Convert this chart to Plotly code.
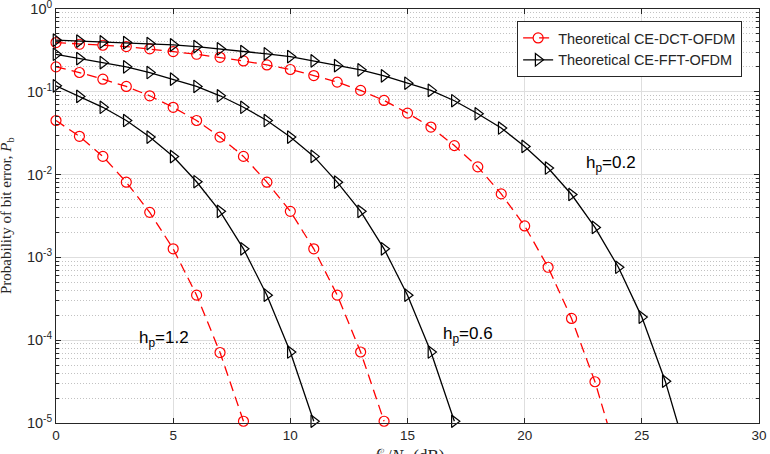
import plotly.graph_objects as go

# Eb/N0 (dB) grids
x_dct_12 = list(range(0, 9))
x_fft_12 = list(range(0, 12))
x_dct_06 = list(range(0, 15))
x_fft_06 = list(range(0, 18))
x_dct_02 = list(range(0, 25))
x_fft_02 = list(range(0, 28))

# Theoretical BER values
dct_12 = [0.045, 0.029, 0.0166, 0.0081, 0.0035, 0.00127, 3.5e-4, 7.1e-5, 1.05e-5]
fft_12 = [0.118, 0.088, 0.065, 0.045, 0.0284, 0.0165, 0.0082, 0.0036, 0.00127,
          3.5e-4, 7.2e-5, 1.05e-5]
dct_06 = [0.2, 0.171, 0.142, 0.116, 0.0895, 0.065, 0.045, 0.0284, 0.0166, 0.0081,
          0.0036, 0.00127, 3.5e-4, 7.2e-5, 1.05e-5]
fft_06 = [0.284, 0.252, 0.225, 0.2, 0.171, 0.142, 0.116, 0.0895, 0.065, 0.045,
          0.0284, 0.0166, 0.0081, 0.0036, 0.00127, 3.5e-4, 7.2e-5, 1.05e-5]
dct_02 = [0.393, 0.375, 0.365, 0.352, 0.33, 0.306, 0.284, 0.261, 0.236, 0.211,
          0.186, 0.157, 0.131, 0.104, 0.0786, 0.0553, 0.0375, 0.0224, 0.0124,
          0.00585, 0.0024, 7.6e-4, 1.83e-4, 3.15e-5, 3.5e-6]
fft_02 = [0.42, 0.41, 0.40, 0.393, 0.382, 0.368, 0.352, 0.33, 0.306, 0.287,
          0.266, 0.236, 0.207, 0.184, 0.156, 0.127, 0.104, 0.078, 0.0543, 0.0365,
          0.0219, 0.012, 0.00575, 0.0023, 7.6e-4, 1.9e-4, 3.2e-5, 3.5e-6]

series_names = ["Theoretical CE-DCT-OFDM", "Theoretical CE-FFT-OFDM"]
y_tick_vals = [1e-5, 1e-4, 1e-3, 1e-2, 1e-1, 1e0]
y_tick_text = ["10<sup>-5</sup>", "10<sup>-4</sup>", "10<sup>-3</sup>",
               "10<sup>-2</sup>", "10<sup>-1</sup>", "10<sup>0</sup>"]
hp_labels = ["h<sub>p</sub>=1.2", "h<sub>p</sub>=0.6", "h<sub>p</sub>=0.2"]
hp_label_x = [4.6, 17.6, 23.7]
hp_label_logy = [-3.98, -3.94, -1.87]

minor_vals = [k * 10.0 ** n for n in range(-5, 0) for k in range(2, 10)]

AX = "#262626"
SANS = "Liberation Sans, Arial, Helvetica, sans-serif"
SERIF = "Liberation Serif, Times New Roman, serif"

fig = go.Figure()

dct_style = dict(mode="lines+markers",
                 line=dict(color="#ff0000", width=1.3, dash="10px,6px"),
                 marker=dict(symbol="circle-open", size=10, color="#ff0000",
                             line=dict(width=1.2, color="#ff0000")),
                 cliponaxis=False, legendgroup="dct")
fft_style = dict(mode="lines+markers",
                 line=dict(color="#000000", width=1.3),
                 marker=dict(symbol="triangle-right-open", size=11, color="#000000",
                             line=dict(width=1.2, color="#000000")),
                 cliponaxis=False, legendgroup="fft")

for i, (xx, yy) in enumerate([(x_dct_02, dct_02), (x_dct_06, dct_06), (x_dct_12, dct_12)]):
    fig.add_trace(go.Scatter(x=xx, y=yy, name=series_names[0],
                             showlegend=(i == 0), **dct_style))
for i, (xx, yy) in enumerate([(x_fft_02, fft_02), (x_fft_06, fft_06), (x_fft_12, fft_12)]):
    fig.add_trace(go.Scatter(x=xx, y=yy, name=series_names[1],
                             showlegend=(i == 0), **fft_style))

annotations = []
for t, xv, yv in zip(hp_labels, hp_label_x, hp_label_logy):
    annotations.append(dict(text=t, x=xv, y=yv, xref="x", yref="y", showarrow=False,
                            xanchor="center", yanchor="middle",
                            font=dict(family=SANS, size=17, color="#000000")))
annotations.append(dict(text="Probability of bit error, <i>P</i><sub>b</sub>",
                        x=0, y=0.5, xref="paper", yref="paper", xshift=-49,
                        textangle=-90, showarrow=False, xanchor="center", yanchor="middle",
                        font=dict(family=SERIF, size=15, color=AX)))
annotations.append(dict(text="<i>ℰ</i><sub>b</sub>/<i>N</i><sub>0</sub> (dB)",
                        x=0.5, y=0, xref="paper", yref="paper", yshift=-21,
                        showarrow=False, xanchor="center", yanchor="top",
                        font=dict(family=SERIF, size=17, color=AX)))

fig.update_layout(
    width=770, height=454,
    margin=dict(l=56, r=11, t=9, b=31, autoexpand=False),
    paper_bgcolor="white", plot_bgcolor="white",
    showlegend=True,
    legend=dict(x=0.976, y=0.971, xanchor="right", yanchor="top",
                bgcolor="white", bordercolor=AX, borderwidth=1,
                font=dict(family=SANS, size=14.5, color=AX),
                tracegroupgap=0),
    annotations=annotations,
    xaxis=dict(range=[0, 30], tick0=0, dtick=5, ticks="inside", ticklen=5,
               tickcolor=AX, showline=True, linecolor=AX, linewidth=1, mirror="ticks",
               showgrid=True, gridcolor="#dedede", gridwidth=1, zeroline=False,
               automargin=False, ticklabeloverflow="allow",
               tickfont=dict(family=SANS, size=13.5, color=AX)),
    yaxis=dict(type="log", range=[-5, 0], tickmode="array", tickvals=y_tick_vals,
               ticktext=y_tick_text, ticks="inside", ticklen=5, tickcolor=AX,
               showline=True, linecolor=AX, linewidth=1, mirror="ticks",
               showgrid=True, gridcolor="#dedede", gridwidth=1, zeroline=False,
               automargin=False, ticklabeloverflow="allow",
               tickfont=dict(family=SANS, size=14.5, color=AX),
               minor=dict(tickmode="array", tickvals=minor_vals, ticks="inside",
                          ticklen=3, tickcolor=AX, showgrid=True,
                          gridcolor="#c2c2c2", griddash="1px,2px", gridwidth=1)),
)

fig.write_html("out.html")
